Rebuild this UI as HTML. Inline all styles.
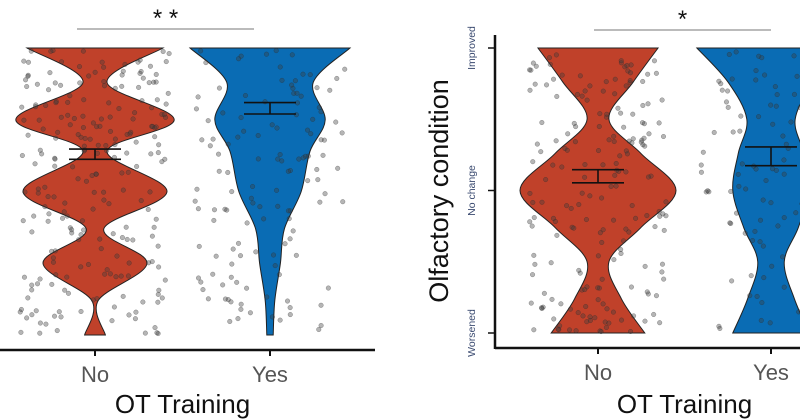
<!DOCTYPE html>
<html><head><meta charset="utf-8"><style>
html,body{margin:0;padding:0;background:#fff;width:800px;height:419px;overflow:hidden}
svg{display:block;font-family:"Liberation Sans",sans-serif}
</style></head><body>
<svg id="chart" width="800" height="419" viewBox="0 0 800 419"></svg>
<script>
// ---- data ----
const groups = ["No","Yes"];
// violin profile levels (0 = bottom/Worsened, 1 = top/Improved)
const leftLevels = [0,0.12,0.25,0.37,0.5,0.64,0.75,0.88,1];
const leftNoDensity  = [0.13,0.04,0.65,0.11,0.9,0.15,0.99,0.15,0.85];
const leftYesDensity = [0.04,0.06,0.13,0.18,0.39,0.5,0.69,0.54,1.0];
const leftMeans = [0.63,0.79]; const leftSE = [0.018,0.02];
const rightLevels = [0,0.12,0.25,0.37,0.5,0.63,0.75,0.88,1];
const rightNoDensity  = [0.6,0.3,0.14,0.55,1.0,0.55,0.14,0.45,0.77];
const rightYesDensity = [0.49,0.3,0.17,0.35,0.49,0.42,0.31,0.55,0.95];
const rightMeans = [0.55,0.62]; const rightSE = [0.023,0.033];
const rightTicks = ["Worsened","No change","Improved"];
const rightTickVals = [0,0.5,1];

const S="http://www.w3.org/2000/svg", svg=document.getElementById('chart');
function el(t,a,p){const e=document.createElementNS(S,t);for(const k in a)e.setAttribute(k,a[k]);(p||svg).appendChild(e);return e;}
let seed=7;function rnd(){seed=(seed*16807)%2147483647;return (seed-1)/2147483646;}

function smoothPath(pts){let d="M"+pts[0][0]+","+pts[0][1];
 for(let i=0;i<pts.length-1;i++){const p0=pts[Math.max(0,i-1)],p1=pts[i],p2=pts[i+1],p3=pts[Math.min(pts.length-1,i+2)];
 d+=" C"+(p1[0]+(p2[0]-p0[0])/6)+","+(p1[1]+(p2[1]-p0[1])/6)+" "+(p2[0]-(p3[0]-p1[0])/6)+","+(p2[1]-(p3[1]-p1[1])/6)+" "+p2[0]+","+p2[1];}
 return d;}

function panel(cfg){
 const y=v=>cfg.yB-(cfg.yB-cfg.yT)*v;
 const x=i=>cfg.xs[i];
 const g=el('g',{});  
 const cols=["#c0412a","#0a6cb4"];
 [cfg.d0,cfg.d1].forEach((dens,gi)=>{
  const cx=x(gi), hw=v=>v*cfg.wMax;
  const right=cfg.levels.map((l,i)=>[cx+hw(dens[i]),y(l)]);
  const left=cfg.levels.map((l,i)=>[cx-hw(dens[i]),y(l)]).reverse();
  const d=smoothPath(right)+" L"+left[0][0]+","+left[0][1]+smoothPath(left).replace(/^M[^C]*/,"")+" Z";
  const p=el('path',{d:d,fill:cols[gi],stroke:"#222","stroke-width":1},g);
  
  
  const pg=el('g',{},g);
  for(let k=0;k<cfg.n[gi];k++){
   const v=0.005+rnd()*0.99;
   el('circle',{cx:cx+(rnd()-0.5)*2*cfg.jit,cy:y(v),r:2.3,fill:"rgba(60,60,60,0.38)",stroke:"rgba(40,40,40,0.45)","stroke-width":0.5},pg);
  }
  const m=cfg.means[gi],se=cfg.se[gi],bw=26;
  const eg=el('g',{stroke:"#111","stroke-width":1.6},g);
  el('line',{x1:cx-bw,x2:cx+bw,y1:y(m+se),y2:y(m+se)},eg);
  el('line',{x1:cx-bw,x2:cx+bw,y1:y(m-se),y2:y(m-se)},eg);
  el('line',{x1:cx,x2:cx,y1:y(m+se),y2:y(m-se)},eg);
 });
 const ax=el('line',{x1:cfg.axX0,x2:cfg.axX1,y1:cfg.axY,y2:cfg.axY,stroke:"#111","stroke-width":2.5},g);
 
 groups.forEach((gname,i)=>{
  el('line',{x1:x(i),x2:x(i),y1:cfg.axY,y2:cfg.axY+6,stroke:"#111","stroke-width":2},g);
  const t=el('text',{x:x(i),y:cfg.axY+32,"text-anchor":"middle","font-size":22,fill:"#555"},g);t.textContent=gname;
  
 });
 const xt=el('text',{x:(x(0)+x(1))/2,y:413,"text-anchor":"middle","font-size":26,fill:"#111"},g);xt.textContent="OT Training";
 
 const sl=el('line',{x1:cfg.sig[0],x2:cfg.sig[1],y1:cfg.sigY,y2:cfg.sigY,stroke:"#777","stroke-width":1},g);
 
 const st=el('text',{x:(cfg.sig[0]+cfg.sig[1])/2,y:cfg.sigY-3,"text-anchor":"middle","font-size":24,fill:"#111"},g);st.textContent=cfg.star;
 
 return y;
}

panel({name:"left-panel",yT:48,yB:335,xs:[95,270],wMax:80,d0:leftNoDensity,d1:leftYesDensity,levels:leftLevels,
 means:leftMeans,se:leftSE,n:[230,130],jit:75,axX0:0,axX1:375,axY:350,sig:[77,254],sigY:29,star:"* *"});
const yR=panel({name:"right-panel",yT:48,yB:333,xs:[598,771],wMax:78,d0:rightNoDensity,d1:rightYesDensity,levels:rightLevels,
 means:rightMeans,se:rightSE,n:[190,110],jit:70,axX0:495,axX1:800,axY:348,sig:[594,771],sigY:30,star:"*"});

const ya=el('line',{x1:495,x2:495,y1:35,y2:349,stroke:"#111","stroke-width":2.5});

rightTickVals.forEach((v,i)=>{
 el('line',{x1:488,x2:495,y1:yR(v),y2:yR(v),stroke:"#111","stroke-width":1.5});
 const t=el('text',{x:0,y:0,"text-anchor":"middle","font-size":10.5,fill:"#3a4a70"});
 t.setAttribute('transform','translate(475,'+yR(v)+') rotate(-90)');t.textContent=rightTicks[i];
 
});
const yt=el('text',{x:0,y:0,"text-anchor":"middle","font-size":27,fill:"#111"});
yt.setAttribute('transform','translate(448,191) rotate(-90)');yt.textContent="Olfactory condition";

</script>
</body></html>
